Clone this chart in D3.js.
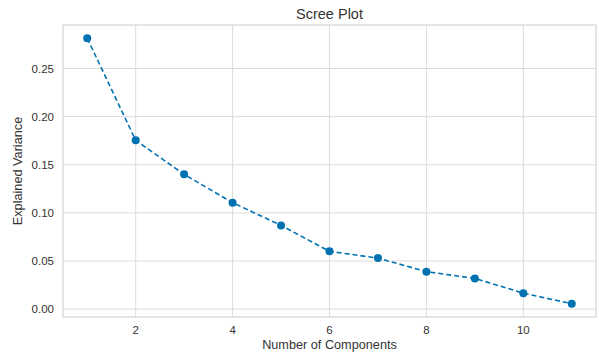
<!DOCTYPE html>
<html>
<head>
<meta charset="utf-8">
<script src="https://cdn.jsdelivr.net/npm/d3@7"></script>
<style>
body { margin:0; background:#fff; }
text { font-family: "Liberation Sans", Arial, sans-serif; fill:#333; }
</style>
</head>
<body>
<script>
const width = 599;
const height = 354;
const margin = {top:25, right:3, bottom:37, left:63};

// explained variance ratio per component
const components = [1,2,3,4,5,6,7,8,9,10,11];
const variance = [0.2814,0.1754,0.1400,0.1106,0.0870,0.0600,0.0530,0.0389,0.0319,0.0166,0.0056];
const xTicks = [2,4,6,8,10];
const yTicks = [0.00,0.05,0.10,0.15,0.20,0.25];

const svg = d3.select("body").append("svg")
.attr("width",width)
.attr("height",height);

const x = d3.scaleLinear().domain([0.5,11.5]).range([margin.left,width-margin.right]);
const y = d3.scaleLinear().domain([-0.0082,0.2952]).range([height-margin.bottom,margin.top]);

// grid
svg.append("g").selectAll("line.vx")
.data(xTicks).join("line")
.attr("x1",d=>x(d)).attr("x2",d=>x(d))
.attr("y1",margin.top).attr("y2",height-margin.bottom)
.style("stroke","#dcdcdc").style("stroke-width",1);

svg.append("g").selectAll("line.hy")
.data(yTicks).join("line")
.attr("x1",margin.left).attr("x2",width-margin.right)
.attr("y1",d=>y(d)).attr("y2",d=>y(d))
.style("stroke","#dcdcdc").style("stroke-width",1);

// frame
svg.append("rect")
.attr("x",margin.left).attr("y",margin.top)
.attr("width",width-margin.right-margin.left)
.attr("height",height-margin.bottom-margin.top)
.attr("fill","none")
.style("stroke","#d4d4d4").style("stroke-width",1.2);

// tick labels
svg.append("g").selectAll("text")
.data(xTicks).join("text")
.attr("x",d=>x(d)).attr("y",height-margin.bottom+17)
.attr("text-anchor","middle")
.style("font-size","11.5px")
.text(d=>d);

svg.append("g").selectAll("text")
.data(yTicks).join("text")
.attr("x",margin.left-9).attr("y",d=>y(d))
.attr("dy","0.35em")
.attr("text-anchor","end")
.style("font-size","11.5px")
.text(d=>d.toFixed(2));

// line + points
const line = d3.line().x((d,i)=>x(components[i])).y(d=>y(d));
svg.append("path")
.datum(variance)
.attr("d",line)
.attr("fill","none")
.style("stroke","#0072b2")
.style("stroke-width",1.6)
.style("stroke-dasharray","5,3");

svg.append("g").selectAll("circle")
.data(variance).join("circle")
.attr("cx",(d,i)=>x(components[i]))
.attr("cy",d=>y(d))
.attr("r",4)
.attr("fill","#0072b2");

// titles
svg.append("text")
.attr("x",(margin.left+width-margin.right)/2).attr("y",19)
.attr("text-anchor","middle")
.style("font-size","14.5px")
.text("Scree Plot");

svg.append("text")
.attr("x",(margin.left+width-margin.right)/2).attr("y",349)
.attr("text-anchor","middle")
.style("font-size","12.7px")
.text("Number of Components");

svg.append("text")
.attr("transform",`translate(22,${(margin.top+height-margin.bottom)/2}) rotate(-90)`)
.attr("text-anchor","middle")
.style("font-size","12.7px")
.text("Explained Variance");
</script>
</body>
</html>
